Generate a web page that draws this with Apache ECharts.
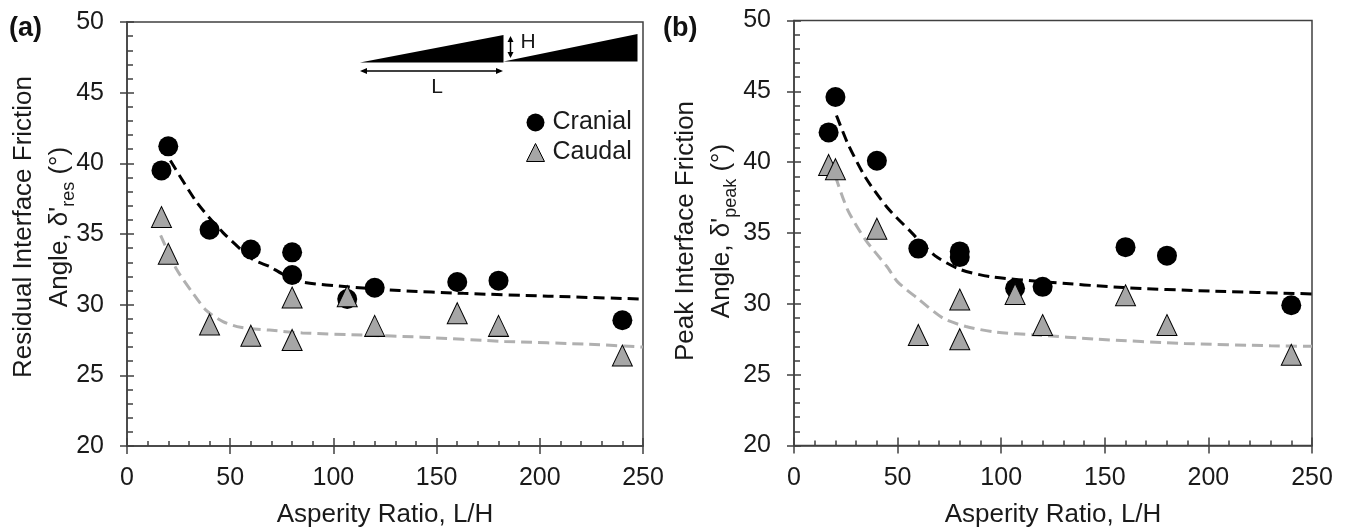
<!DOCTYPE html>
<html>
<head>
<meta charset="utf-8">
<script src="https://cdn.jsdelivr.net/npm/echarts@6/dist/echarts.min.js"></script>
<style>
html, body { margin: 0; padding: 0; background: #fff; }
#chart { width: 1345px; height: 527px; }
</style>
</head>
<body>
<div id="chart"></div>
<script>
// values
let ratio = [16.7, 20, 40, 60, 80, 80, 106.7, 120, 160, 180, 240];
let cranialRes = [39.5, 41.2, 35.3, 33.9, 33.7, 32.1, 30.4, 31.2, 31.6, 31.7, 28.9];
let caudalRes = [36.2, 33.6, 28.6, 27.8, 30.5, 27.5, 30.6, 28.5, 29.4, 28.5, 26.4];
let cranialPeak = [42.1, 44.6, 40.1, 33.9, 33.7, 33.3, 31.1, 31.2, 34.0, 33.4, 29.9];
let caudalPeak = [39.8, 39.5, 35.3, 27.8, 30.3, 27.5, 30.7, 28.5, 30.6, 28.5, 26.4];

let trendCranialRes = [[21, 40.2], [34, 37.2], [46.5, 35.1], [61, 33.2], [69, 32.7], [75, 32.2], [85, 31.6], [108, 31.25], [132, 31.0], [163, 30.8], [204, 30.6], [250, 30.4]];
let trendCaudalRes = [[16.3, 34.9], [24, 32.5], [32, 30.8], [38.4, 29.6], [46.5, 28.8], [55, 28.4], [69, 28.2], [85, 28.0], [114, 27.85], [142.5, 27.7], [183, 27.4], [224, 27.2], [250, 27.0]];
let trendCranialPeak = [[20.5, 43.3], [26, 41.3], [34.6, 38.9], [45, 36.8], [55.6, 35.2], [68, 33.4], [80.7, 32.4], [95.5, 31.9], [121, 31.55], [159, 31.15], [201, 30.9], [250, 30.7]];
let trendCaudalPeak = [[20, 39.0], [26, 36.6], [34.6, 34.5], [45, 32.6], [50, 31.55], [59.5, 30.4], [72, 28.98], [83, 28.4], [97.5, 28.0], [117, 27.8], [146.5, 27.5], [188.5, 27.2], [230, 27.04], [250, 27.0]];

let axisColor = '#404040';
let font = '"Liberation Sans", Arial, sans-serif';
let textColor = '#1a1a1a';

function points(xs, ys) {
    return xs.map(function (x, i) { return [x, ys[i]]; });
}

// each axis is drawn twice so the major ticks cross the line, minor ticks stay inside
function xAxes(gridIndex) {
    let outer = {
        type: 'value', gridIndex: gridIndex, min: 0, max: 250, interval: 50, position: 'bottom',
        name: 'Asperity Ratio, L/H', nameLocation: 'middle', nameGap: 56,
        nameTextStyle: { fontFamily: font, fontSize: 26, color: textColor },
        splitLine: { show: false },
        axisLine: { lineStyle: { color: axisColor, width: 1.5 } },
        axisTick: { length: 8, lineStyle: { color: axisColor, width: 1.5 } },
        axisLabel: { fontFamily: font, fontSize: 25, color: textColor, margin: 20 }
    };
    let inner = {
        type: 'value', gridIndex: gridIndex, min: 0, max: 250, interval: 50, position: 'bottom',
        splitLine: { show: false },
        axisLine: { show: false },
        axisLabel: { show: false },
        axisTick: { inside: true, length: 8, lineStyle: { color: axisColor, width: 1.5 } },
        minorTick: { show: true, splitNumber: 5, length: 5, lineStyle: { color: axisColor, width: 1.5 } }
    };
    return [outer, inner];
}

function yAxes(gridIndex, title, gap, shift) {
    let outer = {
        type: 'value', gridIndex: gridIndex, min: 20, max: 50, interval: 5, position: 'left',
        name: title, nameLocation: 'middle', nameGap: gap, nameRotate: 90, nameMoveOverlap: false,
        nameTextStyle: {
            fontFamily: font, fontSize: 26, color: textColor, lineHeight: 36, align: 'center',
            padding: [0, 0, 0, shift],
            rich: {
                n: { fontFamily: font, fontSize: 26, color: textColor, lineHeight: 36 },
                sub: { fontFamily: font, fontSize: 18, color: textColor, lineHeight: 30, verticalAlign: 'bottom' }
            }
        },
        splitLine: { show: false },
        axisLine: { lineStyle: { color: axisColor, width: 1.5 } },
        axisTick: { length: 7, lineStyle: { color: axisColor, width: 1.5 } },
        axisLabel: { fontFamily: font, fontSize: 25, color: textColor, margin: 23 }
    };
    let inner = {
        type: 'value', gridIndex: gridIndex, min: 20, max: 50, interval: 5, position: 'left',
        splitLine: { show: false },
        axisLine: { show: false },
        axisLabel: { show: false },
        axisTick: { inside: true, length: 7, lineStyle: { color: axisColor, width: 1.5 } },
        minorTick: { show: true, splitNumber: 5, length: 6, lineStyle: { color: axisColor, width: 1.5 } }
    };
    return [outer, inner];
}

function trend(data, color, panel) {
    return {
        type: 'line', xAxisIndex: panel * 2, yAxisIndex: panel * 2, data: data,
        smooth: 0.25, symbol: 'none', z: 1, silent: true,
        lineStyle: { color: color, width: 3, type: [11, 6] }
    };
}

function cranial(data, panel) {
    return {
        name: 'Cranial', type: 'scatter', xAxisIndex: panel * 2, yAxisIndex: panel * 2,
        data: data, symbol: 'circle', symbolSize: 20, z: 2,
        itemStyle: { color: '#000', opacity: 1 }
    };
}

function caudal(data, panel) {
    return {
        name: 'Caudal', type: 'scatter', xAxisIndex: panel * 2, yAxisIndex: panel * 2,
        data: data, symbol: 'triangle', symbolSize: [20, 21], z: 3,
        itemStyle: { color: '#a6a6a6', borderColor: '#000', borderWidth: 1, opacity: 1 }
    };
}

let wedge = { fill: '#000' };
let arrowStyle = { stroke: '#000', lineWidth: 1.5 };
let inset = [
    { type: 'polygon', shape: { points: [[360, 62.5], [503.5, 35], [503.5, 62.5]] }, style: wedge },
    { type: 'polygon', shape: { points: [[503.5, 61.5], [637.5, 34], [637.5, 61.5]] }, style: wedge },
    { type: 'line', shape: { x1: 362, y1: 71, x2: 501, y2: 71 }, style: arrowStyle },
    { type: 'polygon', shape: { points: [[360, 71], [367, 68], [367, 74]] }, style: wedge },
    { type: 'polygon', shape: { points: [[503, 71], [496, 68], [496, 74]] }, style: wedge },
    { type: 'line', shape: { x1: 510.5, y1: 38, x2: 510.5, y2: 56 }, style: arrowStyle },
    { type: 'polygon', shape: { points: [[510.5, 36], [507.5, 42], [513.5, 42]] }, style: wedge },
    { type: 'polygon', shape: { points: [[510.5, 58], [507.5, 52], [513.5, 52]] }, style: wedge },
    { type: 'text', style: { x: 437, y: 87, text: 'L', font: '21px ' + font, fill: textColor, align: 'center', verticalAlign: 'middle' } },
    { type: 'text', style: { x: 528, y: 42, text: 'H', font: '21px ' + font, fill: textColor, align: 'center', verticalAlign: 'middle' } }
];

let myChart = echarts.init(document.getElementById('chart'));

let option = {
    backgroundColor: '#fff',
    animation: false,
    title: [
        { text: '(a)', left: 4, top: 10, textStyle: { fontFamily: font, fontSize: 27, fontWeight: 'bold', color: '#111' } },
        { text: '(b)', left: 658, top: 10, textStyle: { fontFamily: font, fontSize: 27, fontWeight: 'bold', color: '#111' } }
    ],
    legend: {
        data: ['Cranial', 'Caudal'], orient: 'vertical', left: 521, top: 105,
        itemWidth: 18, itemHeight: 18, itemGap: 5, selectedMode: false,
        itemStyle: { borderWidth: 1 },
        textStyle: { fontFamily: font, fontSize: 25, color: textColor, padding: [0, 0, 0, 3] }
    },
    grid: [
        { left: 127, top: 22, width: 516, height: 424, outerBoundsMode: 'none', show: true, borderColor: axisColor, borderWidth: 1.5, backgroundColor: 'transparent' },
        { left: 794, top: 20.5, width: 518, height: 425, outerBoundsMode: 'none', show: true, borderColor: axisColor, borderWidth: 1.5, backgroundColor: 'transparent' }
    ],
    xAxis: xAxes(0).concat(xAxes(1)),
    yAxis: yAxes(0, "Residual Interface Friction\n{n|Angle, δ'}{sub|res}{n| (°)}", 49, 14).concat(yAxes(1, "Peak Interface Friction\n{n|Angle, δ'}{sub|peak}{n| (°)}", 54, 4)),
    series: [
        trend(trendCranialRes, '#000', 0),
        trend(trendCaudalRes, '#b0b0b0', 0),
        cranial(points(ratio, cranialRes), 0),
        caudal(points(ratio, caudalRes), 0),
        trend(trendCranialPeak, '#000', 1),
        trend(trendCaudalPeak, '#b0b0b0', 1),
        cranial(points(ratio, cranialPeak), 1),
        caudal(points(ratio, caudalPeak), 1)
    ],
    graphic: inset
};

myChart.setOption(option);
</script>
</body>
</html>
